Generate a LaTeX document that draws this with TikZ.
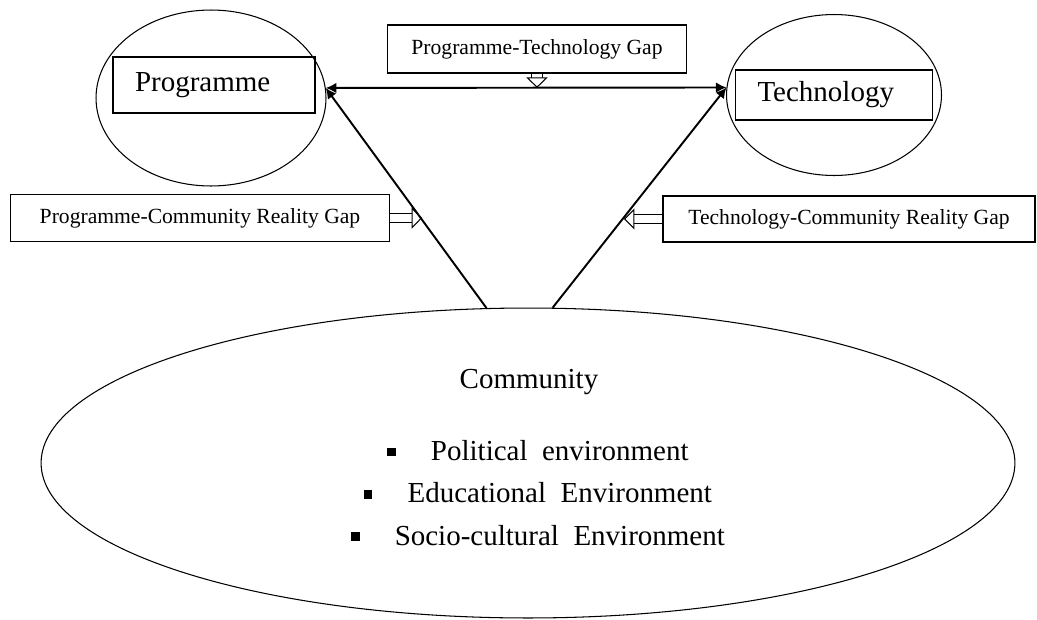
\documentclass[tikz,border=0pt]{standalone}
\usepackage{fontspec}
\setmainfont{Liberation Serif}
\usetikzlibrary{arrows.meta,calc,positioning,shapes}
\newcommand{\bsq}{\raisebox{2.5pt}{\rule{4.8pt}{4.8pt}}}
\tikzstyle{bubble}=[
  draw=black,
  ellipse,
  inner sep=0pt,
  line width=.6pt,
]
\tikzstyle{element}=[
  align=left,
  draw=black,
  font={\fontsize{16.5}{20}\selectfont},
  inner sep=0pt,
  inner xsep=.44cm,
  line width=.6pt,
  rectangle,
]
\tikzstyle{gapbox}=[
  draw=black,
  font={\fontsize{12.3}{14}\selectfont},
  inner sep=0pt,
  line width=.6pt,
  rectangle,
  text centered,
]
\tikzstyle{arrow}=[
  draw=black,
  line width=1.1pt,
]
\tikzstyle{gaparrow}=[
  -{Triangle[open, length=6pt, width=12pt, line width=.6pt]},
  double,
  double distance=4.5pt,
  draw=black,
  line width=.6pt,
]
\tikzset{
  >={Latex[length=6pt,width=6pt]},
}
\begin{document}
\begin{tikzpicture}[x=.02cm, y=-.02cm]
     \useasboundingbox (0,0) rectangle (1037,619);
     %% programme and technology
     \node (prog) [bubble, minimum width=4.6cm, minimum height=3.52cm] at (211,98) {};
     \node (progbox) [element, text width=3.16cm, minimum height=1.12cm] at (214,85) {Programme};
     \node (tech) [bubble, minimum width=4.3cm, minimum height=3.22cm] at (834,95) {};
     \node (techbox) [element, text width=3.06cm, minimum height=1cm] at (834,95) {Technology};
     %% community
     \node (comm) [bubble, minimum width=19.48cm, minimum height=6.2cm] at (528,463) {};
     \node (commtitle) [font={\fontsize{16.5}{20}\selectfont}] at (529,382) {Community};
     \node (envlist) [align=center, font={\fontsize{16.5}{24}\selectfont}] at (538,493)
       {\bsq\hspace{20pt}Political\ \ environment\\
        \bsq\hspace{20pt}Educational\ \ Environment\\
        \bsq\hspace{20pt}Socio-cultural\ \ Environment};
     %% gaps
     \node (ptgap) [gapbox, minimum width=5.98cm, minimum height=.96cm] at (537,49) {Programme-Technology Gap};
     \node (pcrgap) [gapbox, minimum width=7.6cm, minimum height=.94cm] at (200,218) {Programme-Community Reality Gap};
     \node (tcrgap) [gapbox, line width=1.1pt, minimum width=7.44cm, minimum height=.92cm] at (849,219) {Technology-Community Reality Gap};
     %%
     \draw [<->, arrow] (prog.5) -- (tech.176);
     \draw [->, arrow] (comm.105) -- (prog.5);
     \draw [->, arrow] (comm.81) -- (tech.176);
     %%
     \coordinate (pcrend) at ($(comm.105)!.4!(prog.5)$);
     \coordinate (tcrend) at ($(comm.81)!.41!(tech.176)$);
     \draw [gaparrow] (pcrgap.east) -- (pcrgap.east -| pcrend);
     \draw [gaparrow] (tcrgap.west) -- (tcrgap.west -| tcrend);
     \draw [gaparrow, double distance=6pt] (ptgap.south) -- (ptgap.south |- prog.5);
   \end{tikzpicture}
\end{document}
